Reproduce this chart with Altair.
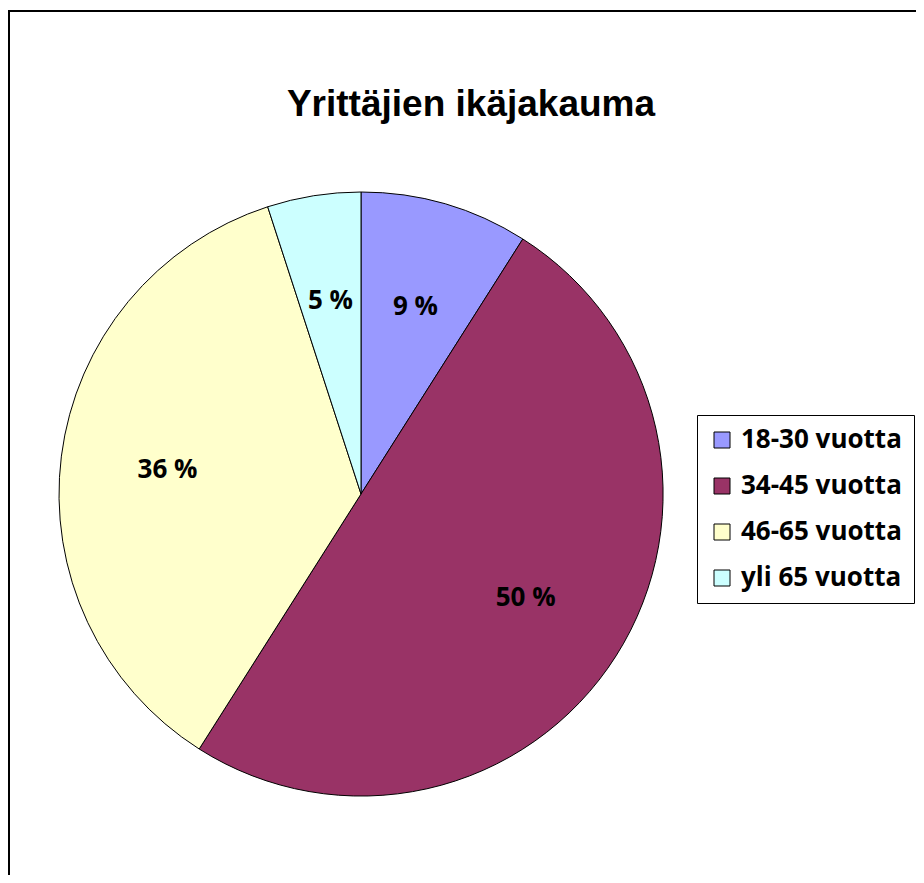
import altair as alt
import pandas as pd

categories = ["18-30 vuotta", "34-45 vuotta", "46-65 vuotta", "yli 65 vuotta"]
values = [9, 50, 36, 5]
labels = ["9 %", "50 %", "36 %", "5 %"]
colors = ["#9999FF", "#993366", "#FFFFCC", "#CCFFFF"]

df = pd.DataFrame({"cat": categories, "val": values, "lab": labels, "ord": list(range(len(categories)))})

W, H = 908, 867
CX, CY, R = 353, 486, 302

color = alt.Color(
    "cat:N",
    scale=alt.Scale(domain=categories, range=colors),
    legend=alt.Legend(
        title=None, orient="none", legendX=689, legendY=407,
        symbolType="square", symbolSize=256, symbolStrokeColor="black", symbolStrokeWidth=1,
        labelFont="Open Sans", labelFontWeight="bold", labelFontSize=26, labelColor="black",
        labelOffset=6, rowPadding=20, padding=12,
        strokeColor="black", fillColor="white", labelLimit=400,
    ),
)

base = alt.Chart(df)
pie = base.mark_arc(stroke="black", strokeWidth=1, outerRadius=R).encode(
    theta=alt.Theta("val:Q", stack=True),
    order=alt.Order("ord:Q"),
    color=color,
    x=alt.value(CX), y=alt.value(CY),
)
text = base.mark_text(font="Open Sans", fontWeight="bold", fontSize=26, color="black", radius=195).encode(
    theta=alt.Theta("val:Q", stack=True),
    order=alt.Order("ord:Q"),
    text="lab:N",
    x=alt.value(CX), y=alt.value(CY),
)
frame_left = alt.Chart(pd.DataFrame({"a": [0]})).mark_rule(color="black", strokeWidth=2).encode(
    x=alt.value(1), y=alt.value(2), y2=alt.value(H + 10))
frame_top = alt.Chart(pd.DataFrame({"a": [0]})).mark_rule(color="black", strokeWidth=2).encode(
    x=alt.value(0), x2=alt.value(W + 10), y=alt.value(3))

chart = alt.layer(frame_left, frame_top, pie, text).properties(
    width=W, height=H,
    title=alt.TitleParams("Yrittäjien ikäjakauma", font="Liberation Sans, Arial, sans-serif", fontSize=37,
                          fontWeight="bold", color="black", anchor="middle", offset=-116, dx=9, frame="group"),
    padding=0, autosize=alt.AutoSizeParams(type="none"),
).configure_view(stroke=None)

chart.save("out.html", embed_options={"renderer": "svg", "actions": False})
